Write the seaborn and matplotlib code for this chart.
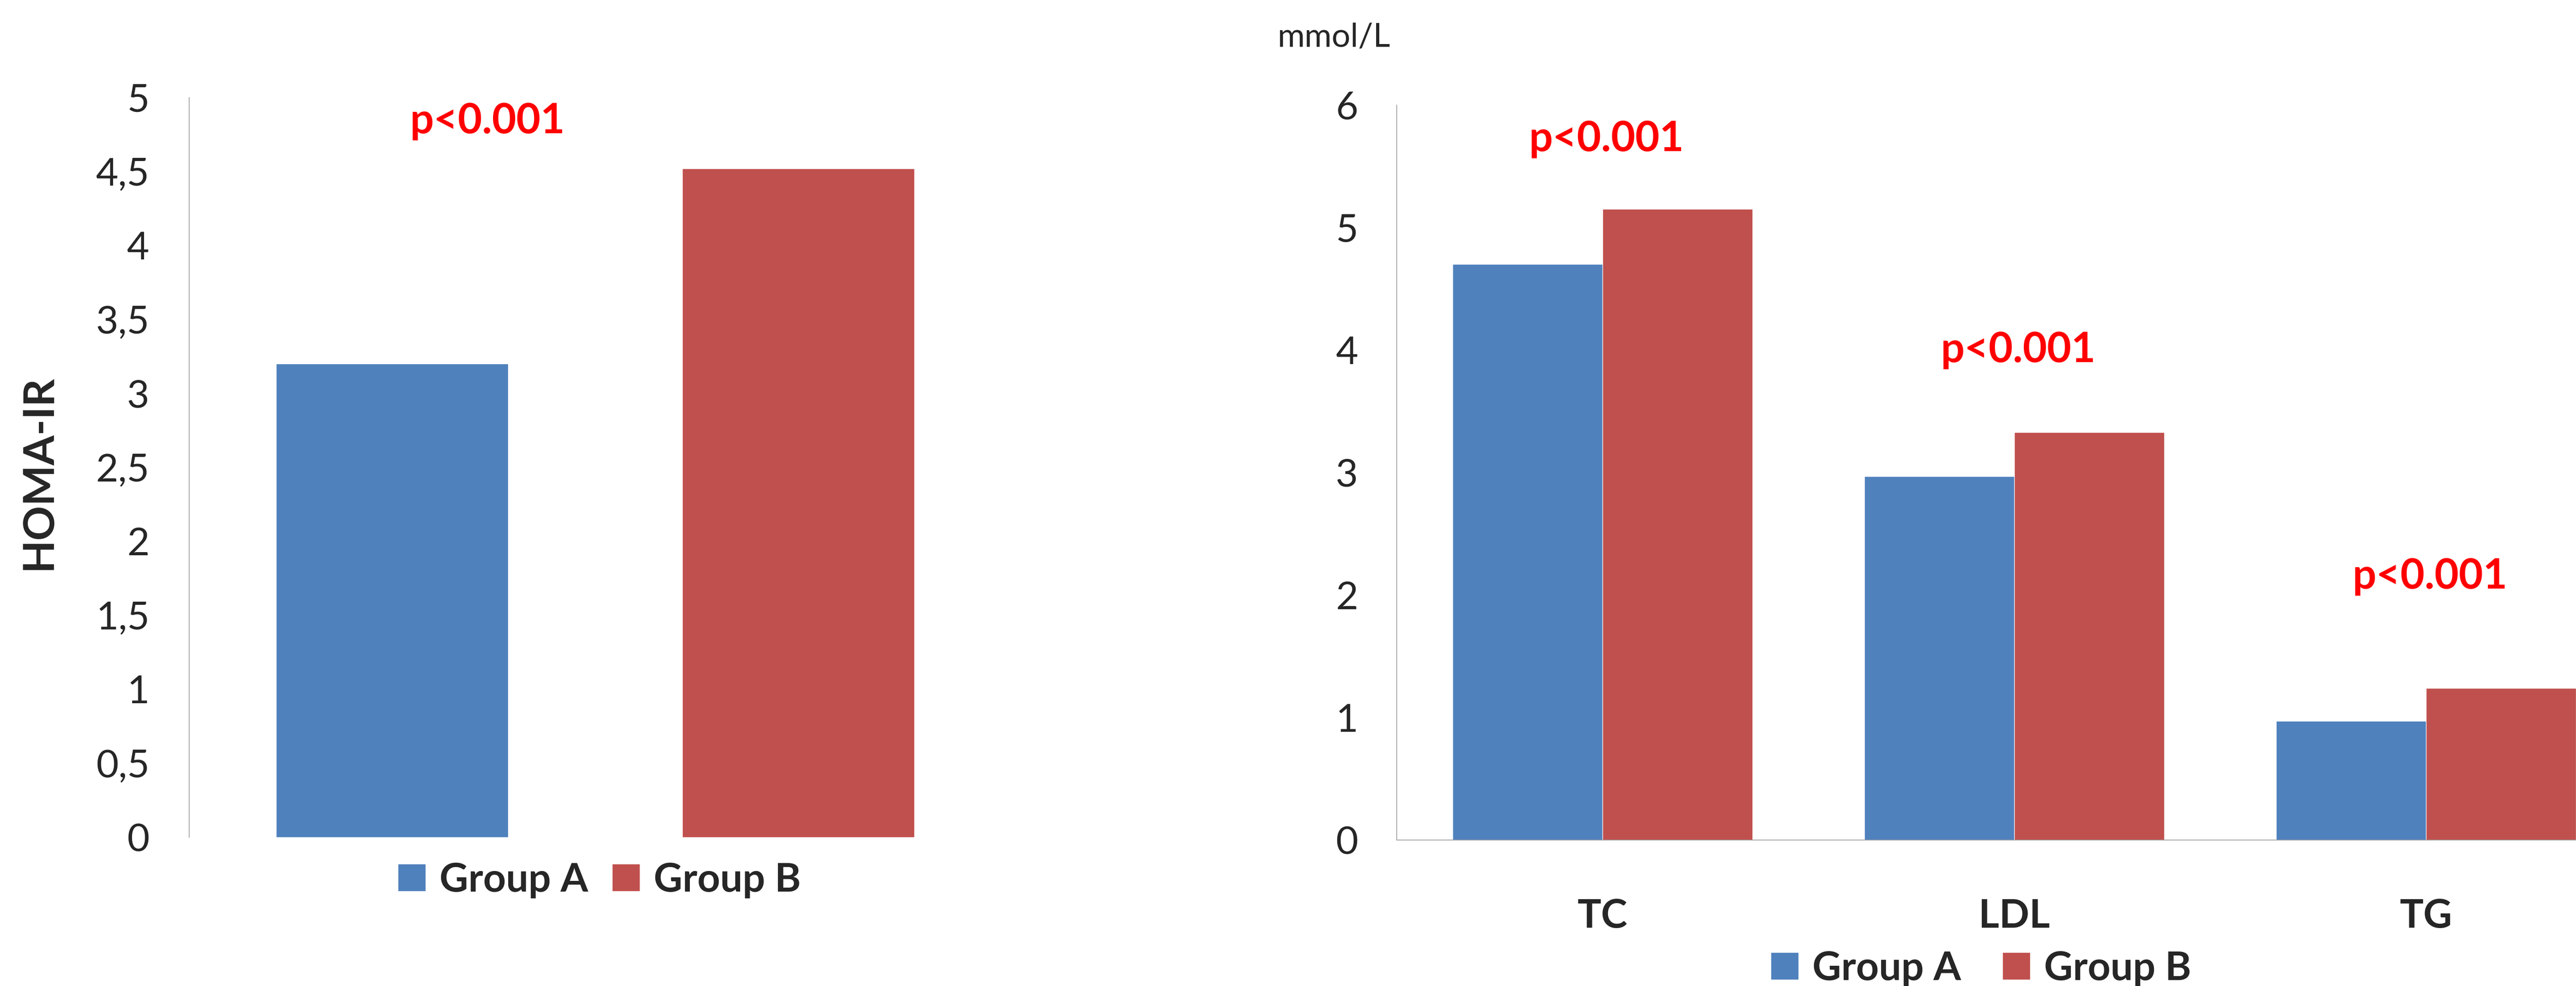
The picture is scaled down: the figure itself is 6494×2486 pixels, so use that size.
import pandas as pd
import seaborn as sns
import matplotlib.pyplot as plt

# dados
grupos = ['Group A', 'Group B']
homa_ir = [3.2, 4.52]

lipidios = ['TC', 'LDL', 'TG']
grupo_a = [4.70, 2.97, 0.97]
grupo_b = [5.15, 3.33, 1.24]

ticks_esq = [0, 0.5, 1, 1.5, 2, 2.5, 3, 3.5, 4, 4.5, 5]
ticks_esq_lbl = ['0', '0,5', '1', '1,5', '2', '2,5', '3', '3,5', '4', '4,5', '5']
ticks_dir = [0, 1, 2, 3, 4, 5, 6]

p_txt = 'p<0.001'

cores = {'Group A': '#4F81BD', 'Group B': '#C0504D'}
cinza = '#A0A0A0'

sns.set_style('white')
plt.rcParams['font.family'] = ['Lato', 'DejaVu Sans']

fig = plt.figure(figsize=(64.94, 24.86), dpi=100)

# painel esquerdo - HOMA-IR
ax1 = fig.add_axes([0.07338, 0.15085, 0.31537, 0.75020])
df1 = pd.DataFrame({'grupo': grupos, 'valor': homa_ir})
sns.barplot(data=df1, x='grupo', y='valor', hue='grupo', palette=cores,
            width=0.572, saturation=1, ax=ax1, legend=True)
ax1.set_xlim(-0.5, 1.5)
ax1.set_ylim(0, 5)
ax1.set_yticks(ticks_esq)
ax1.set_yticklabels(ticks_esq_lbl)
ax1.set_xticks([])
ax1.set_xlabel('')
ax1.set_ylabel('HOMA-IR', fontsize=78, fontweight='bold')
ax1.yaxis.label.set_va('center')
ax1.yaxis.set_label_coords(-0.185, 0.493)
ax1.tick_params(axis='y', labelsize=70, length=0, pad=72)
for s in ['top', 'right', 'bottom']:
    ax1.spines[s].set_visible(False)
ax1.spines['left'].set_color(cinza)
ax1.spines['left'].set_linewidth(1.4)
ax1.text(0.235, 4.84, p_txt, color='red', fontsize=76, fontweight='bold',
         ha='center', va='center')
sns.move_legend(ax1, 'center', bbox_to_anchor=(0.505, -0.058), ncol=2,
                frameon=False, title=None, fontsize=72,
                handlelength=0.7, handleheight=0.68, handletextpad=0.35,
                columnspacing=0.6)
for t in ax1.get_legend().get_texts():
    t.set_fontweight('bold')

# painel direito - lipidios
ax2 = fig.add_axes([0.54219, 0.14803, 0.47952, 0.74538])
df2 = pd.DataFrame({
    'lipidio': lipidios * 2,
    'grupo': ['Group A'] * 3 + ['Group B'] * 3,
    'valor': grupo_a + grupo_b,
})
sns.barplot(data=df2, x='lipidio', y='valor', hue='grupo', palette=cores,
            width=0.729, gap=0, saturation=1, ax=ax2)
ax2.set_xlim(-0.5, 2.5)
ax2.set_ylim(0, 6)
ax2.set_yticks(ticks_dir)
ax2.set_xlabel('')
ax2.set_ylabel('')
ax2.tick_params(axis='y', labelsize=70, length=0, pad=70)
ax2.tick_params(axis='x', labelsize=72, length=0, pad=106)
for t in ax2.get_xticklabels():
    t.set_fontweight('bold')
for s in ['top', 'right']:
    ax2.spines[s].set_visible(False)
for s in ['left', 'bottom']:
    ax2.spines[s].set_color(cinza)
    ax2.spines[s].set_linewidth(1.4)
for i, y in zip(range(3), [5.72, 4.0, 2.15]):
    ax2.text(i + 0.01, y, p_txt, color='red', fontsize=76, fontweight='bold',
             ha='center', va='center')
ax2.text(-0.051, 1.092, 'mmol/L', transform=ax2.transAxes, fontsize=60,
         ha='center', va='center')
sns.move_legend(ax2, 'center', bbox_to_anchor=(0.473, -0.175), ncol=2,
                frameon=False, title=None, fontsize=72,
                handlelength=0.7, handleheight=0.68, handletextpad=0.35,
                columnspacing=1.05)
for t in ax2.get_legend().get_texts():
    t.set_fontweight('bold')

fig.savefig('out.png', dpi=100, facecolor='white')
